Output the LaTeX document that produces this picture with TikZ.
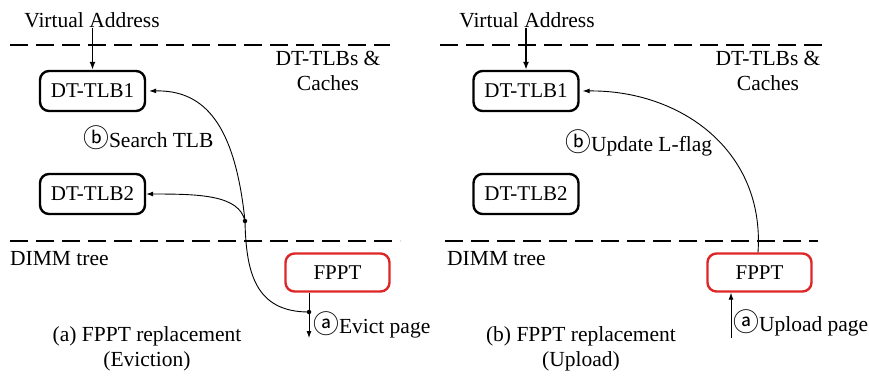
\documentclass[tikz,border=0pt]{standalone}
\usepackage{fontspec}
\setmainfont{Liberation Serif}
\newfontfamily\circfont{Noto Sans CJK SC}[Scale=1.2]
\usetikzlibrary{arrows.meta}
\definecolor{fred}{RGB}{222,38,38}
\newcommand{\circl}[1]{{\circfont #1}}
\tikzset{
  txt/.style={font=\fontsize{21.5}{25}\selectfont, inner sep=0pt, align=center},
  tlb/.style={draw=black, line width=2.4pt, rounded corners=9pt, minimum width=105pt, minimum height=40pt, inner sep=0pt, font=\fontsize{21}{25}\selectfont},
  fppt/.style={draw=fred, line width=2.4pt, rounded corners=9pt, minimum width=104pt, minimum height=38pt, inner sep=0pt, font=\fontsize{21}{25}\selectfont},
  sep/.style={line width=2.2pt, dash pattern=on 18pt off 8pt},
  conn/.style={line width=0.9pt, -{Latex[length=7pt,width=5pt]}},
  thickarr/.style={line width=1.8pt, -{Latex[length=8pt,width=6pt]}},
  dotn/.style={circle, fill=black, inner sep=0pt, minimum size=4.5pt}
}
\begin{document}
\begin{tikzpicture}[x=1pt,y=-1pt]
\useasboundingbox (0,0) rectangle (869,376);
% ---------- left panel ----------
\node[txt] (va1) at (92,20) {Virtual Address};
\coordinate (s1a) at (10,45); \coordinate (s1b) at (390,45);
\draw[sep] (s1a) -- (s1b);
\node[txt] (dc1) at (328,71) {DT-TLBs \&\\Caches};
\node[tlb] (t11) at (92.5,91) {DT-TLB1};
\node[tlb] (t12) at (92.5,194) {DT-TLB2};
\coordinate (s2a) at (10,241); \coordinate (s2b) at (400,241);
\draw[sep] (s2a) -- (s2b);
\node[txt, anchor=west] (dimm1) at (10,259) {DIMM tree};
\node[fppt] (f1) at (337.5,272.5) {FPPT};
\node[txt, anchor=west] (sl1) at (83,138) {\circl{ⓑ}Search TLB};
\node[txt] (cap1) at (147,349) {(a) FPPT replacement\\(Eviction)};
\draw[thickarr] (va1.south -| t11.north) -- (t11.north);
\coordinate (fb1) at (f1.south -| 309,0);
\node[dotn] (d1) at (309,312) {};
\coordinate (ev1) at (309,338);
\draw[conn] (fb1) -- (ev1);
\node[txt, anchor=west] (evl) at (313,325) {\circl{ⓐ}Evict page};
\node[dotn] (d2) at (245,221) {};
\draw[line width=0.9pt] (d1.center) .. controls (255,312) and (246,272) .. (d2.center);
\draw[conn] (d2.center) .. controls (239,195) and (200,194) .. (t12.east);
\draw[conn] (d2.center) .. controls (235,125) and (205,90) .. ([xshift=3pt]t11.east);
% ---------- right panel ----------
\node[txt] (va2) at (527,20) {Virtual Address};
\coordinate (s3a) at (440,45); \coordinate (s3b) at (822,45);
\draw[sep] (s3a) -- (s3b);
\node[txt] (dc2) at (768,71) {DT-TLBs \&\\Caches};
\node[tlb] (t21) at (526,91) {DT-TLB1};
\node[tlb] (t22) at (526,194) {DT-TLB2};
\coordinate (s4a) at (445,241); \coordinate (s4b) at (818,241);
\draw[sep] (s4a) -- (s4b);
\node[txt, anchor=west] (dimm2) at (447,259) {DIMM tree};
\node[fppt] (f2) at (759.5,272.5) {FPPT};
\node[txt, anchor=west] (sl2) at (565,143) {\circl{ⓑ}Update L-flag};
\node[txt] (cap2) at (581,349) {(b) FPPT replacement\\(Upload)};
\draw[thickarr] (va2.south -| t21.north) -- (t21.north);
\coordinate (up2) at (731,338);
\draw[conn] (up2) -- (up2 |- f2.south);
\node[txt, anchor=west] (upl) at (733,323) {\circl{ⓐ}Upload page};
\coordinate (ft2) at (f2.north -| 758,0);
\draw[conn] (ft2) .. controls (765,150) and (680,90) .. ([xshift=3pt]t21.east);
\end{tikzpicture}
\end{document}
